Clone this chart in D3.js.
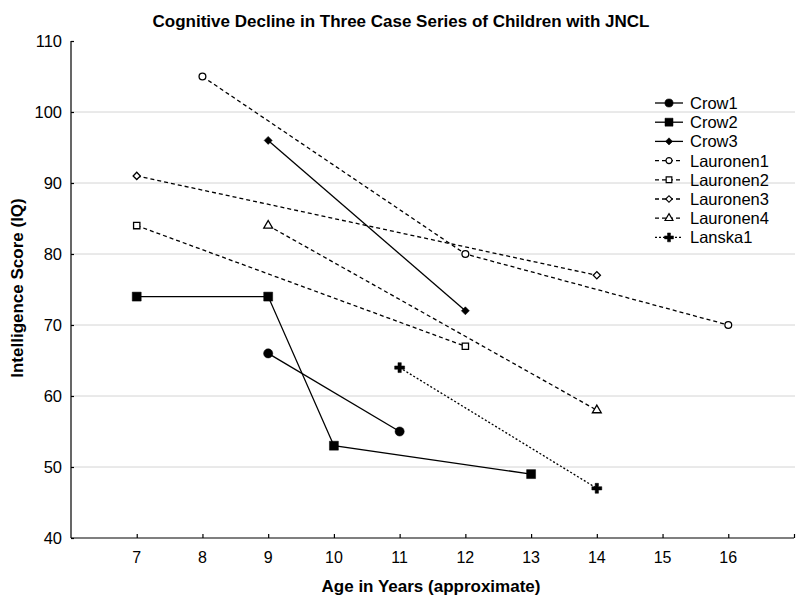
<!DOCTYPE html>
<html><head><meta charset="utf-8">
<script src="https://cdn.jsdelivr.net/npm/d3@7"></script>
<style>body{margin:0;background:#fff;} text{font-family:"Liberation Sans",Arial,sans-serif;}</style>
</head><body><svg id="c" width="800" height="600"></svg>
<script>
const seriesNames = ["Crow1","Crow2","Crow3","Lauronen1","Lauronen2","Lauronen3","Lauronen4","Lanska1"];
const crow1 = [[9,66],[11,55]];
const crow2 = [[7,74],[9,74],[10,53],[13,49]];
const crow3 = [[9,96],[12,72]];
const lauronen1 = [[8,105],[12,80],[16,70]];
const lauronen2 = [[7,84],[12,67]];
const lauronen3 = [[7,91],[14,77]];
const lauronen4 = [[9,84],[14,58]];
const lanska1 = [[11,64],[14,47]];
const xTicks = [7,8,9,10,11,12,13,14,15,16];
const yTicks = [40,50,60,70,80,90,100,110];

const seriesData = [crow1,crow2,crow3,lauronen1,lauronen2,lauronen3,lauronen4,lanska1];
const styles = [
  {sym:"circle", fill:true, dash:null, size:66},
  {sym:"square", fill:true, dash:null, size:80},
  {sym:"diamond", fill:true, dash:null, size:32},
  {sym:"circle", fill:false, dash:"4,3", size:36},
  {sym:"square", fill:false, dash:"4,3", size:40},
  {sym:"diamond", fill:false, dash:"4,3", size:26},
  {sym:"triangle", fill:false, dash:"4,3", size:34},
  {sym:"cross", fill:true, dash:"2,2", size:55}
];
const symMap = {circle:d3.symbolCircle, square:d3.symbolSquare, diamond:d3.symbolSquare, triangle:d3.symbolTriangle, cross:d3.symbolCross};

const svg = d3.select("#c");
const x = d3.scaleLinear().domain([6,17]).range([71,794]);
const y = d3.scaleLinear().domain([40,110]).range([538,41]);

// grid
svg.append("g").selectAll("line").data(yTicks.filter(v=>v>40 && v<110)).join("line")
  .attr("x1",71).attr("x2",795).attr("y1",d=>y(d)).attr("y2",d=>y(d))
  .attr("stroke","#d4d4d4").attr("stroke-width",1);

// axes
const xAxis = svg.append("g").attr("transform","translate(0,538)")
  .call(d3.axisTop(x).tickValues(xTicks.concat([17])).tickSize(4).tickFormat(""));
xAxis.select(".domain").attr("d","M71,0H794");
xAxis.selectAll("line,path").attr("stroke","#000").attr("stroke-width",1.2);
svg.append("g").selectAll("text").data(xTicks).join("text")
  .attr("x",d=>x(d)).attr("y",563).attr("text-anchor","middle")
  .attr("font-size",16).text(d=>d);

const yAxis = svg.append("g").attr("transform","translate(71,0)")
  .call(d3.axisRight(y).tickValues(yTicks).tickSize(3).tickFormat(""));
yAxis.select(".domain").attr("d","M0,41V538");
yAxis.selectAll("line,path").attr("stroke","#000").attr("stroke-width",1.2);
svg.append("g").selectAll("text").data(yTicks).join("text")
  .attr("x",62).attr("y",d=>y(d)+6).attr("text-anchor","end")
  .attr("font-size",16.5).text(d=>d);

// titles
svg.append("text").attr("x",401).attr("y",27).attr("text-anchor","middle")
  .attr("font-size",17).attr("font-weight","bold").text("Cognitive Decline in Three Case Series of Children with JNCL");
svg.append("text").attr("x",431).attr("y",592).attr("text-anchor","middle")
  .attr("font-size",17).attr("font-weight","bold").text("Age in Years (approximate)");
svg.append("text").attr("transform","translate(23,288) rotate(-90)").attr("text-anchor","middle")
  .attr("font-size",17).attr("font-weight","bold").text("Intelligence Score (IQ)");

const line = d3.line().x(d=>x(d[0])).y(d=>y(d[1]));
function markerTransform(s, px, py){
  return `translate(${px},${py})` + (s.sym==="diamond" ? " rotate(45)" : "");
}
seriesData.forEach((data,i)=>{
  const s = styles[i];
  svg.append("path").datum(data).attr("d",line).attr("fill","none")
    .attr("stroke","#000").attr("stroke-width",1.3)
    .attr("stroke-dasharray",s.dash);
  svg.append("g").selectAll("path").data(data).join("path")
    .attr("transform",d=>markerTransform(s, x(d[0]), y(d[1])))
    .attr("d",d3.symbol().type(symMap[s.sym]).size(s.size))
    .attr("fill",s.fill?"#000":"#fff").attr("stroke","#000").attr("stroke-width",s.fill?0.5:1.3);
});

// legend
const lg = svg.append("g");
seriesNames.forEach((name,i)=>{
  const s = styles[i];
  const yy = 103 + i*19.2;
  lg.append("line").attr("x1",655).attr("x2",683).attr("y1",yy).attr("y2",yy)
    .attr("stroke","#000").attr("stroke-width",1.3).attr("stroke-dasharray",s.dash);
  lg.append("path").attr("transform",markerTransform(s,669,yy))
    .attr("d",d3.symbol().type(symMap[s.sym]).size(s.size*0.8))
    .attr("fill",s.fill?"#000":"#fff").attr("stroke","#000").attr("stroke-width",s.fill?0.5:1.2);
  lg.append("text").attr("x",690).attr("y",yy+6).attr("font-size",16.5).text(name);
});
</script></body></html>
